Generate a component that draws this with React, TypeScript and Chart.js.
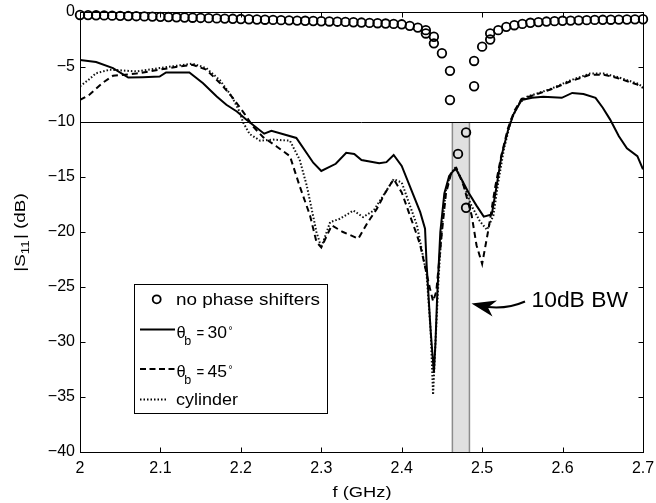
import React, { useEffect, useRef } from 'react';
import { Chart, registerables } from 'chart.js';
Chart.register(...registerables);

// ---- data ----
const X_TICKS = [2, 2.1, 2.2, 2.3, 2.4, 2.5, 2.6, 2.7];
const Y_TICKS = [-40, -35, -30, -25, -20, -15, -10, -5, 0];

const NPS_F = [
  2.00, 2.01, 2.02, 2.03, 2.04, 2.05, 2.06, 2.07, 2.08, 2.09,
  2.10, 2.11, 2.12, 2.13, 2.14, 2.15, 2.16, 2.17, 2.18, 2.19,
  2.20, 2.21, 2.22, 2.23, 2.24, 2.25, 2.26, 2.27, 2.28, 2.29,
  2.30, 2.31, 2.32, 2.33, 2.34, 2.35, 2.36, 2.37, 2.38, 2.39,
  2.40, 2.41, 2.42, 2.43, 2.43, 2.44, 2.44, 2.45, 2.46, 2.46,
  2.47, 2.48, 2.48, 2.49, 2.49, 2.50, 2.51, 2.51, 2.52, 2.53,
  2.54, 2.55, 2.56, 2.57, 2.58, 2.59, 2.60, 2.61, 2.62, 2.63,
  2.64, 2.65, 2.66, 2.67, 2.68, 2.69, 2.70,
];
const NPS_DB = [
  -0.27, -0.28, -0.30, -0.31, -0.33, -0.35, -0.37, -0.38, -0.40, -0.42,
  -0.44, -0.46, -0.48, -0.50, -0.52, -0.54, -0.56, -0.58, -0.60, -0.62,
  -0.64, -0.66, -0.68, -0.70, -0.72, -0.74, -0.76, -0.78, -0.80, -0.82,
  -0.84, -0.86, -0.88, -0.90, -0.93, -0.96, -0.99, -1.02, -1.05, -1.08,
  -1.12, -1.26, -1.42, -1.65, -1.95, -2.25, -2.85, -3.75, -5.35, -8.0,
  -12.9, -10.95, -17.8, -6.75, -4.45, -3.15, -2.5, -1.95, -1.65, -1.35,
  -1.2, -1.08, -0.98, -0.92, -0.87, -0.83, -0.80, -0.78, -0.76, -0.74,
  -0.72, -0.71, -0.70, -0.69, -0.68, -0.67, -0.66,
];

const T30_F = [
  2.000, 2.020, 2.041, 2.060, 2.078, 2.099, 2.107, 2.136, 2.153, 2.170,
  2.182, 2.195, 2.207, 2.229, 2.238, 2.269, 2.290, 2.300, 2.318, 2.331,
  2.341, 2.350, 2.372, 2.381, 2.390, 2.400, 2.423, 2.429, 2.431, 2.436,
  2.440, 2.442, 2.444, 2.448, 2.453, 2.459, 2.467, 2.475, 2.483, 2.493,
  2.502, 2.512, 2.518, 2.524, 2.532, 2.539, 2.549, 2.562, 2.576, 2.599,
  2.612, 2.626, 2.641, 2.650, 2.659, 2.670, 2.680, 2.693, 2.700,
];
const T30_DB = [
  -4.37, -4.55, -5.1, -5.96, -5.93, -5.87, -5.5, -5.5, -6.47, -7.68,
  -8.43, -9.04, -9.79, -11.06, -10.8, -11.45, -13.7, -14.45, -13.8, -12.8,
  -12.9, -13.45, -13.75, -13.65, -13.0, -14.0, -18.2, -19.7, -23.0, -29.0,
  -32.8, -30.0, -26.0, -20.0, -16.5, -14.9, -14.2, -15.3, -16.4, -17.6,
  -18.6, -18.4, -15.8, -13.1, -10.8, -9.3, -8.0, -7.8, -7.7, -7.8,
  -7.36, -7.45, -7.8, -8.7, -9.76, -11.3, -12.4, -13.1, -14.3,
];

const T45_F = [
  2.000, 2.012, 2.028, 2.041, 2.070, 2.099, 2.124, 2.140, 2.157, 2.174,
  2.190, 2.205, 2.215, 2.228, 2.244, 2.261, 2.273, 2.286, 2.294, 2.300,
  2.313, 2.327, 2.346, 2.358, 2.369, 2.379, 2.390, 2.400, 2.419, 2.423,
  2.435, 2.439, 2.443, 2.450, 2.455, 2.461, 2.468, 2.477, 2.487, 2.493,
  2.500, 2.508, 2.516, 2.524, 2.532, 2.540, 2.549, 2.560, 2.585, 2.610,
  2.634, 2.651, 2.668, 2.693, 2.700,
];
const T45_DB = [
  -8.0, -7.5, -6.45, -5.8, -5.6, -5.24, -4.95, -4.8, -5.24, -6.45,
  -7.8, -9.3, -10.4, -11.4, -12.2, -13.1, -15.8, -18.5, -20.9, -21.4,
  -19.4, -20.0, -20.6, -19.1, -17.9, -16.5, -15.2, -16.4, -20.3, -21.2,
  -25.1, -26.3, -25.4, -20.0, -16.5, -14.8, -14.2, -15.8, -18.5, -21.2,
  -22.9, -19.7, -16.0, -13.0, -10.6, -9.0, -7.9, -7.66, -7.05, -6.3,
  -5.7, -5.7, -6.0, -6.6, -6.9,
];

const CYL_F = [
  2.000, 2.010, 2.020, 2.037, 2.070, 2.099, 2.124, 2.140, 2.157, 2.174,
  2.188, 2.198, 2.203, 2.211, 2.224, 2.240, 2.261, 2.273, 2.282, 2.294,
  2.300, 2.311, 2.323, 2.340, 2.352, 2.365, 2.377, 2.390, 2.400, 2.419,
  2.431, 2.436, 2.439, 2.442, 2.446, 2.450, 2.455, 2.461, 2.467, 2.476,
  2.486, 2.497, 2.506, 2.514, 2.520, 2.527, 2.536, 2.546, 2.556, 2.585,
  2.610, 2.634, 2.651, 2.668, 2.693, 2.700,
];
const CYL_DB = [
  -6.75, -6.2, -5.57, -5.24, -5.4, -5.1, -4.85, -4.7, -5.1, -6.2,
  -7.6, -9.0, -10.07, -11.1, -11.7, -11.6, -11.7, -13.4, -15.8, -20.0,
  -21.4, -19.1, -18.8, -18.05, -18.65, -18.05, -16.7, -15.2, -15.5, -19.4,
  -23.9, -29.0, -34.8, -30.0, -24.0, -19.5, -16.2, -14.7, -14.1, -15.5,
  -17.5, -19.0, -19.8, -18.5, -15.5, -12.5, -9.8, -8.3, -7.7, -7.0,
  -6.2, -5.6, -5.6, -5.9, -6.5, -6.8,
];

const BW_START = 2.463;
const BW_END = 2.4842;
const REF_LEVEL = -10;

const LEGEND_LABELS = ['no phase shifters', '30', '45', 'cylinder'];
const ANNOT_TEXT = '10dB BW';
const X_TITLE = 'f (GHz)';

const FONT = '"Liberation Sans", Arial, Helvetica, sans-serif';

const pts = (f: number[], v: number[]) => f.map((x, i) => ({ x, y: v[i] }));

function fitText(ctx: CanvasRenderingContext2D, s: string, x: number, y: number, size: number, targetW: number | null, align: 'left' | 'center' | 'right' = 'left', sxFixed = 1) {
  ctx.save();
  ctx.font = `${size}px ${FONT}`;
  ctx.textBaseline = 'alphabetic';
  ctx.textAlign = 'left';
  const m = ctx.measureText(s).width;
  const sx = targetW ? targetW / m : sxFixed;
  const w = m * sx;
  const x0 = align === 'center' ? x - w / 2 : align === 'right' ? x - w : x;
  ctx.translate(x0, y);
  ctx.scale(sx, 1);
  ctx.fillStyle = '#000';
  ctx.fillText(s, 0, 0);
  ctx.restore();
  return w;
}

const decor = {
  id: 'decor',
  beforeDatasetsDraw(chart: any) {
    const { ctx, chartArea: a, scales } = chart;
    const xs = scales.x, ys = scales.y;
    const bx0 = xs.getPixelForValue(BW_START);
    const bx1 = xs.getPixelForValue(BW_END);
    const by0 = ys.getPixelForValue(REF_LEVEL);
    const by1 = ys.getPixelForValue(-40);
    ctx.save();
    ctx.fillStyle = '#e0e0e0';
    ctx.fillRect(bx0, by0, bx1 - bx0, by1 - by0);
    ctx.strokeStyle = '#8c8c8c';
    ctx.lineWidth = 1.5;
    ctx.beginPath();
    ctx.moveTo(bx0, by0); ctx.lineTo(bx0, by1);
    ctx.moveTo(bx1, by0); ctx.lineTo(bx1, by1);
    ctx.stroke();
    ctx.strokeStyle = '#000';
    ctx.lineWidth = 1;
    const yl = Math.round(by0) + 0.5;
    ctx.beginPath();
    ctx.moveTo(a.left, yl); ctx.lineTo(a.right, yl);
    ctx.stroke();
    ctx.restore();
  },
  afterDatasetsDraw(chart: any) {
    const { ctx, chartArea: a, scales } = chart;
    const xs = scales.x, ys = scales.y;
    ctx.save();
    ctx.strokeStyle = '#000';
    ctx.lineWidth = 1;
    const L = Math.round(a.left) + 0.5, R = Math.round(a.right) + 0.5;
    const T = Math.round(a.top) + 0.5, B = Math.round(a.bottom) + 0.5;
    ctx.strokeRect(L, T, R - L, B - T);
    ctx.beginPath();
    X_TICKS.forEach((v) => {
      const px = Math.round(xs.getPixelForValue(v)) + 0.5;
      ctx.moveTo(px, B); ctx.lineTo(px, B - 5);
      ctx.moveTo(px, T); ctx.lineTo(px, T + 5);
    });
    Y_TICKS.forEach((v) => {
      const py = Math.round(ys.getPixelForValue(v)) + 0.5;
      ctx.moveTo(L, py); ctx.lineTo(L + 5, py);
      ctx.moveTo(R, py); ctx.lineTo(R - 5, py);
    });
    ctx.stroke();

    // legend
    ctx.fillStyle = '#fff';
    ctx.fillRect(134, 284, 194, 129);
    ctx.strokeStyle = '#000';
    ctx.lineWidth = 1;
    ctx.strokeRect(134.5, 284.5, 193, 129);
    ctx.lineWidth = 1.8;
    ctx.beginPath();
    ctx.arc(156.7, 299.3, 4.0, 0, Math.PI * 2);
    ctx.stroke();
    fitText(ctx, LEGEND_LABELS[0], 176, 304.5, 16.5, 144);
    ctx.lineWidth = 2;
    ctx.setLineDash([]);
    ctx.beginPath(); ctx.moveTo(140, 329.5); ctx.lineTo(175, 329.5); ctx.stroke();
    ctx.setLineDash([6, 3.5]);
    ctx.beginPath(); ctx.moveTo(140, 369); ctx.lineTo(175, 369); ctx.stroke();
    ctx.setLineDash([1.5, 2]);
    ctx.lineWidth = 1.8;
    ctx.beginPath(); ctx.moveTo(140, 399.5); ctx.lineTo(167, 399.5); ctx.stroke();
    ctx.setLineDash([]);
    const theta = (label: string, base: number) => {
      fitText(ctx, '\u03b8', 176.5, base, 16.5, null);
      fitText(ctx, 'b', 184.3, base + 6.5, 12.5, null);
      fitText(ctx, '=', 196.5, base, 16.5, null, 'left', 0.8);
      const w = fitText(ctx, label, 207.5, base, 16.5, 19.5);
      fitText(ctx, '\u00b0', 207.5 + w + 1.5, base - 4.5, 10, null);
    };
    theta(LEGEND_LABELS[1], 338);
    theta(LEGEND_LABELS[2], 377);
    fitText(ctx, LEGEND_LABELS[3], 176, 404.5, 16.5, 62);

    // annotation
    fitText(ctx, ANNOT_TEXT, 531.5, 306.5, 22.5, 96.5);
    ctx.lineWidth = 2;
    ctx.strokeStyle = '#000';
    ctx.beginPath();
    ctx.moveTo(525, 301.5);
    ctx.quadraticCurveTo(508, 309, 488, 307);
    ctx.stroke();
    ctx.fillStyle = '#000';
    ctx.beginPath();
    ctx.moveTo(471.5, 303.5);
    ctx.lineTo(497, 300.5);
    ctx.lineTo(488, 307.5);
    ctx.lineTo(492.5, 316.5);
    ctx.closePath();
    ctx.fill();

    // x title
    fitText(ctx, X_TITLE, (a.left + a.right) / 2 + 0.5, 496.7, 15.5, 59, 'center');

    // y title
    ctx.save();
    ctx.translate(24.5, 232.5);
    ctx.rotate(-Math.PI / 2);
    ctx.fillStyle = '#000';
    const sx = 1.22;
    ctx.font = `15.5px ${FONT}`;
    const w1 = ctx.measureText('|S').width;
    ctx.font = `11px ${FONT}`;
    const w2 = ctx.measureText('11').width;
    ctx.font = `15.5px ${FONT}`;
    const w3 = ctx.measureText('| (dB)').width;
    const total = (w1 + w2 + 1 + w3) * sx;
    ctx.translate(-total / 2, 0);
    ctx.scale(sx, 1);
    ctx.textBaseline = 'alphabetic';
    ctx.textAlign = 'left';
    ctx.font = `15.5px ${FONT}`;
    ctx.fillText('|S', 0, 0);
    ctx.font = `11px ${FONT}`;
    ctx.fillText('11', w1, 4);
    ctx.font = `15.5px ${FONT}`;
    ctx.fillText('| (dB)', w1 + w2 + 1, 0);
    ctx.restore();

    ctx.restore();
  },
};

export default function App() {
  const ref = useRef<HTMLCanvasElement | null>(null);
  useEffect(() => {
    if (!ref.current) return;
    const fmtX = (v: number) => String(parseFloat(Number(v).toFixed(1)));
    const fmtY = (v: number) => {
      const n = Math.round(Number(v));
      return n < 0 ? '\u2212' + String(-n) : String(n);
    };
    const chart = new Chart(ref.current, {
      type: 'scatter',
      data: {
        datasets: [
          {
            label: 'no phase shifters',
            data: pts(NPS_F, NPS_DB),
            showLine: false,
            pointStyle: 'circle',
            pointRadius: 4.3,
            pointBorderWidth: 1.8,
            pointBorderColor: '#000',
            pointBackgroundColor: 'rgba(0,0,0,0)',
            clip: false,
          } as any,
          {
            label: '\u03b8b = 30\u00b0',
            data: pts(T30_F, T30_DB),
            showLine: true,
            borderColor: '#000',
            borderWidth: 2,
            pointRadius: 0,
            tension: 0,
          },
          {
            label: '\u03b8b = 45\u00b0',
            data: pts(T45_F, T45_DB),
            showLine: true,
            borderColor: '#000',
            borderWidth: 2,
            borderDash: [6, 4],
            pointRadius: 0,
            tension: 0,
          },
          {
            label: 'cylinder',
            data: pts(CYL_F, CYL_DB),
            showLine: true,
            borderColor: '#111',
            borderWidth: 2,
            borderDash: [1.5, 2],
            pointRadius: 0,
            tension: 0,
          },
        ],
      },
      options: {
        responsive: false,
        maintainAspectRatio: false,
        animation: false,
        devicePixelRatio: 1,
        layout: { padding: { top: 12, right: 13, left: 0, bottom: 0 } },
        plugins: { legend: { display: false }, tooltip: { enabled: false } },
        scales: {
          x: {
            type: 'linear',
            min: 2,
            max: 2.7,
            afterFit: (s: any) => { s.height = 51; s.paddingLeft = 0; s.paddingRight = 0; },
            afterBuildTicks: (s: any) => { s.ticks = X_TICKS.map((v) => ({ value: v })); },
            grid: { display: false, drawTicks: false },
            border: { display: false },
            ticks: {
              padding: 7,
              color: '#000',
              font: { size: 16, family: FONT },
              maxRotation: 0,
              autoSkip: false,
              callback: (v: any) => fmtX(v),
            },
          },
          y: {
            type: 'linear',
            min: -40,
            max: 0,
            afterFit: (s: any) => { s.width = 80; s.paddingTop = 0; s.paddingBottom = 0; },
            afterBuildTicks: (s: any) => { s.ticks = Y_TICKS.map((v) => ({ value: v })); },
            grid: { display: false, drawTicks: false },
            border: { display: false },
            ticks: {
              padding: 5,
              color: '#000',
              font: { size: 16, family: FONT },
              autoSkip: false,
              callback: (v: any) => fmtY(v),
            },
          },
        },
      },
      plugins: [decor],
    });
    return () => chart.destroy();
  }, []);
  return (
    <div style={{ position: 'absolute', left: 0, top: 0, width: 656, height: 503, background: '#fff' }}>
      <canvas ref={ref} width={656} height={503} style={{ display: 'block', width: 656, height: 503 }} />
    </div>
  );
}
